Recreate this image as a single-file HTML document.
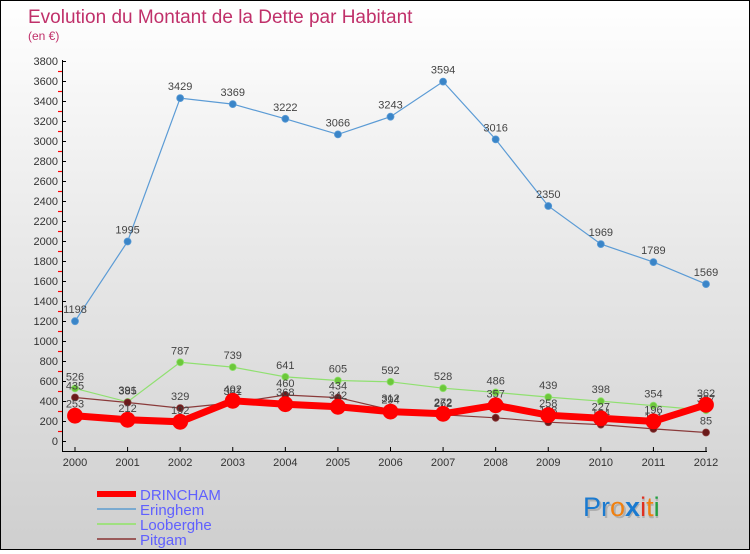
<!DOCTYPE html>
<html><head><meta charset="utf-8"><style>
body{margin:0;width:750px;height:550px;overflow:hidden;font-family:"Liberation Sans",sans-serif}
#wrap{position:relative;width:748px;height:548px;border:1px solid #000;background:linear-gradient(#fff 0%,#e6e6e6 50%,#cfcfcf 100%)}
</style></head><body>
<div id="wrap">
<svg id="chart" width="748" height="548" font-family="Liberation Sans, sans-serif">
<text x="27" y="22" font-size="19" fill="#c0306a" font-weight="300">Evolution du Montant de la Dette par Habitant</text>
<text x="27" y="39" font-size="12" fill="#c0306a">(en €)</text>
<g id="axes"></g><g id="series"></g><g id="legend"></g>
<g font-size="27">
<text x="584" y="517" fill="#999" opacity="0.6">Proxiti</text>
<text x="582" y="515"><tspan fill="#1a7ad0">Pr</tspan><tspan fill="#f08010">o</tspan><tspan fill="#1a7ad0" font-weight="bold">x</tspan><tspan fill="#e03020">i</tspan><tspan fill="#f08010">t</tspan><tspan fill="#20a040">i</tspan></text>
</g>
</svg></div>
<script>
const years=[2000,2001,2002,2003,2004,2005,2006,2007,2008,2009,2010,2011,2012];
const yTicks=[0,200,400,600,800,1000,1200,1400,1600,1800,2000,2200,2400,2600,2800,3000,3200,3400,3600,3800];
const drincham=[253,212,192,402,368,342,294,272,357,258,227,196,362];
const eringhem=[1198,1995,3429,3369,3222,3066,3243,3594,3016,2350,1969,1789,1569];
const looberghe=[526,391,787,739,641,605,592,528,486,439,398,354,307];
const pitgam=[435,385,329,381,460,434,312,262,232,188,164,121,85];
const NS='http://www.w3.org/2000/svg';
const xS=i=>74+i*(705-74)/12;
const yS=v=>440-v*380/3800;
function mk(t,a,p){const e=document.createElementNS(NS,t);for(const k in a)e.setAttribute(k,a[k]);p.appendChild(e);return e;}
const ax=document.getElementById('axes');
let l=mk('line',{x1:61.5,y1:59,x2:61.5,y2:450,stroke:'#000'},ax);


l=mk('line',{x1:61,y1:450.5,x2:706,y2:450.5,stroke:'#000'},ax);


yTicks.forEach(v=>{
 const yy=Math.round(yS(v))+0.5;
 mk('line',{x1:61,y1:yy,x2:65,y2:yy,stroke:'#000'},ax);
 if(v<3800){const ym=Math.round(yS(v+100))+0.5;mk('line',{x1:57,y1:ym,x2:61,y2:ym,stroke:'#ff0000','stroke-width':1.2},ax);}
 const t=mk('text',{x:57,y:yS(v)+4,'font-size':11,'text-anchor':'end',fill:'#333'},ax);
 t.textContent=v;
 
 
});
years.forEach((y,i)=>{
 mk('line',{x1:xS(i),y1:446,x2:xS(i),y2:450,stroke:'#000'},ax);
 const t=mk('text',{x:xS(i),y:465,'font-size':11,'text-anchor':'middle',fill:'#333'},ax);
 t.textContent=y;
 
 
});
const sg=document.getElementById('series');
function draw(name,vals,color,w,r,dot){
 const g=mk('g',{},sg);
 
 
 const pts=vals.map((v,i)=>xS(i)+','+yS(v)).join(' ');
 mk('polyline',{points:pts,fill:'none',stroke:color,'stroke-width':w},g);
 vals.forEach((v,i)=>{
  const c=mk('circle',{cx:xS(i),cy:yS(v),r:r,fill:dot,stroke:color,'stroke-width':0.8},g);
  
  
  const t=mk('text',{x:xS(i),y:yS(v)-8,'font-size':11,'text-anchor':'middle',fill:'#444'},g);
  t.textContent=v;
  
  
 });
}
draw('eringhem',eringhem,'#5b9bd5',1.2,3.5,'#3a85c8');
draw('looberghe',looberghe,'#90e070',1.2,3.5,'#6cc83a');
draw('pitgam',pitgam,'#8a3a3a',1.2,3.5,'#6a1a1a');
draw('drincham',drincham,'#ff0000',7,7.5,'#ff0000');
const lg=document.getElementById('legend');
const items=[['DRINCHAM','#ff0000',6],['Eringhem','#7aaad0',2],['Looberghe','#a0e080',2],['Pitgam','#9a5a5a',2]];
items.forEach((it,i)=>{
 const y=493+i*15;
 const g=mk('g',{},lg);
 
 
 mk('line',{x1:96,y1:y,x2:135,y2:y,stroke:it[1],'stroke-width':it[2]},g);
 const t=mk('text',{x:139,y:y+6,'font-size':15,fill:'#6060ff'},g);
 t.textContent=it[0];
});
</script>
</body></html>
